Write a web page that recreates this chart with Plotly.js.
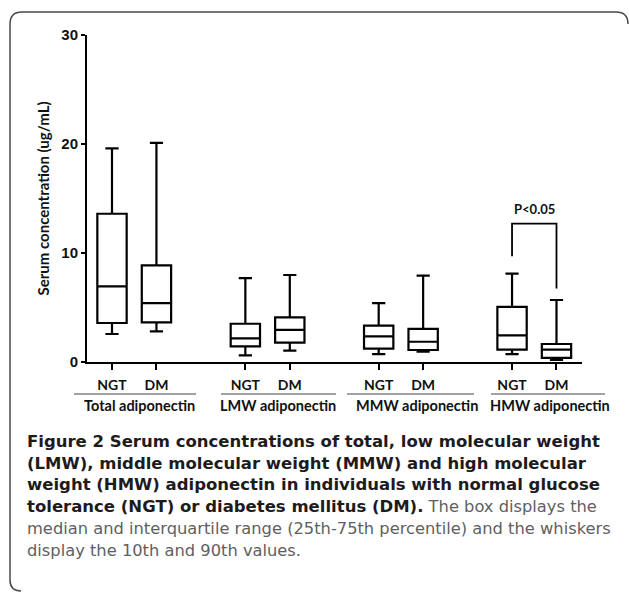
<!DOCTYPE html>
<html>
<head>
<meta charset="utf-8">
<script src="https://cdn.plot.ly/plotly-3.0.1.min.js"></script>
<style>
  html, body { margin: 0; padding: 0; background: #fff; }
  #chart { width: 629px; height: 592px; }
</style>
</head>
<body>
<div id="chart"></div>
<script>
// ---- data ----
const groups = ["Total adiponectin", "LMW adiponectin", "MMW adiponectin", "HMW adiponectin"];
const boxLabels = ["NGT", "DM", "NGT", "DM", "NGT", "DM", "NGT", "DM"];
const boxPos = [0, 1, 3, 4, 6, 7, 9, 10];
const lowerWhisker = [2.57, 2.81, 0.61, 1.04, 0.73, 0.95, 0.73, 0.20];
const q1Values     = [3.58, 3.63, 1.43, 1.77, 1.22, 1.10, 1.13, 0.37];
const medianValues = [6.94, 5.41, 2.17, 2.94, 2.35, 1.86, 2.44, 1.13];
const q3Values     = [13.6, 8.86, 3.51, 4.09, 3.33, 3.03, 5.05, 1.65];
const upperWhisker = [19.6, 20.1, 7.70, 7.98, 5.41, 7.92, 8.10, 5.69];
const yTicks = [0, 10, 20, 30];
const bracketX = [9, 9, 10, 10];
const bracketY = [9.7, 12.7, 12.7, 6.75];
const pLabel = "P<0.05";
const pLabelY = 14.0;
const yTitle = "Serum concentration (ug/mL)";

// ---- layout helpers (pixel -> paper) ----
const FW = 629, FH = 592;
const PL = 87, PR = 582, PT = 35, PB = 362;
const px = p => (p - PL) / (PR - PL);
const py = p => (PB - p) / (PB - PT);

const axisFont = "Lato, Liberation Sans, Arial, sans-serif";
const capFont = "DejaVu Sans, Verdana, sans-serif";

const traces = [
  {
    type: "box",
    x: boxPos,
    q1: q1Values,
    median: medianValues,
    q3: q3Values,
    lowerfence: lowerWhisker,
    upperfence: upperWhisker,
    width: 0.66,
    whiskerwidth: 0.45,
    boxpoints: false,
    fillcolor: "#ffffff",
    line: { color: "#000000", width: 2.2 },
    hoverinfo: "skip",
    showlegend: false
  },
  {
    type: "scatter",
    mode: "lines",
    x: bracketX,
    y: bracketY,
    line: { color: "#000000", width: 1.8 },
    hoverinfo: "skip",
    showlegend: false
  }
];

// group underline positions (pixels) and label centres
const groupLines = [[74, 196], [221, 336], [347, 474], [491, 605]];
const groupCentres = [139, 278, 417, 550];

const shapes = [];
groupLines.forEach(g => {
  shapes.push({
    type: "line", xref: "paper", yref: "paper",
    x0: px(g[0]), x1: px(g[1]), y0: py(394), y1: py(394),
    line: { color: "#444444", width: 1.2 }
  });
});

// rounded frame (top and left edges visible)
function P(x, y) { return px(x).toFixed(5) + "," + py(y).toFixed(5); }
const framePath = "M" + P(628, 24) + " Q" + P(628, 12) + " " + P(616, 12) +
  " L" + P(22, 12) + " Q" + P(10, 12) + " " + P(10, 24) +
  " L" + P(10, 580) + " Q" + P(10, 591) + " " + P(21, 591);
shapes.push({
  type: "path", xref: "paper", yref: "paper", path: framePath,
  line: { color: "#4a4a4a", width: 1.5 }
});

const annotations = [];
groups.forEach((g, i) => {
  annotations.push({
    text: g, xref: "paper", yref: "paper",
    x: px(groupCentres[i]), y: py(405.5), xanchor: "center", yanchor: "middle",
    showarrow: false,
    font: { family: axisFont, size: 14.5, color: "#111111", weight: "bold" }
  });
});
annotations.push({
  text: pLabel, xref: "x", yref: "y", x: 9.5, y: pLabelY,
  xanchor: "center", yanchor: "middle", showarrow: false,
  font: { family: axisFont, size: 13, color: "#111111", weight: "bold" }
});
// y-axis title
annotations.push({
  text: yTitle, xref: "paper", yref: "paper",
  x: px(42), y: py(198.5), xanchor: "center", yanchor: "middle",
  textangle: -90, showarrow: false,
  font: { family: axisFont, size: 15, color: "#111111", weight: "bold" }
});

const light = "#5f6062";
const B = s => "<span style='font-size:16.5px'><b>" + s + "</b></span>";
const R = s => "<span style='font-size:16.3px;color:" + light + "'>" + s + "</span>";
const caption = [
  B("Figure 2 Serum concentrations of total, low molecular weight"),
  B("(LMW), middle molecular weight (MMW) and high molecular"),
  B("weight (HMW) adiponectin in individuals with normal glucose"),
  B("tolerance (NGT) or diabetes mellitus (DM).") + R(" The box displays the"),
  R("median and interquartile range (25th-75th percentile) and the whiskers"),
  R("display the 10th and 90th values.")
].join("<br>");
annotations.push({
  text: caption, xref: "paper", yref: "paper",
  x: px(25), y: py(495.5), xanchor: "left", yanchor: "middle",
  showarrow: false, align: "left",
  font: { family: capFont, size: 16.7, color: "#1e1b1c" }
});

const layout = {
  width: FW, height: FH,
  margin: { l: PL, r: FW - PR, t: PT, b: FH - PB, pad: 0 },
  paper_bgcolor: "#ffffff", plot_bgcolor: "#ffffff",
  showlegend: false,
  xaxis: {
    range: [-0.5625, 10.574],
    tickvals: boxPos, ticktext: boxLabels,
    showline: true, linecolor: "#000000", linewidth: 2,
    ticks: "outside", ticklen: 6, tickwidth: 2, tickcolor: "#000000",
    ticklabelstandoff: 3,
    showgrid: false, zeroline: false,
    tickfont: { family: axisFont, size: 14, color: "#111111", weight: "bold" }
  },
  yaxis: {
    range: [0, 30],
    tickvals: yTicks,
    showline: true, linecolor: "#000000", linewidth: 2,
    ticks: "outside", ticklen: 4, tickwidth: 2, tickcolor: "#000000",
    showgrid: false, zeroline: false,
    tickfont: { family: "Liberation Sans, Arial, sans-serif", size: 15, color: "#111111", weight: "bold" }
  },
  shapes: shapes,
  annotations: annotations
};

Plotly.newPlot("chart", traces, layout, { staticPlot: true, displayModeBar: false });
</script>
</body>
</html>
